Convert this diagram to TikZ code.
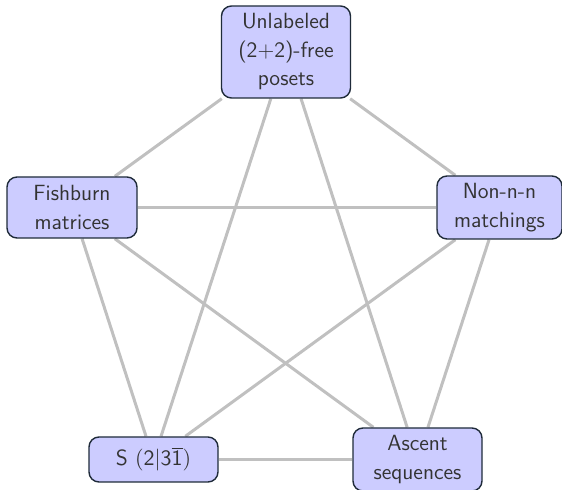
\documentclass[tikz,border=0pt]{standalone}
\usetikzlibrary{backgrounds}
\definecolor{boxfill}{HTML}{CCCCFF}
\definecolor{boxdraw}{HTML}{1F2B3A}
\definecolor{txt}{HTML}{333333}
\definecolor{edgegray}{HTML}{C0C0C0}
\begin{document}
\begin{tikzpicture}[x=1pt,y=1pt,
  box/.style={draw=boxdraw, line width=0.7pt, fill=boxfill, rounded corners=5pt,
    text=txt, align=center, font=\sffamily\fontsize{11}{14.25}\selectfont,
    minimum width=64.5pt, inner sep=2pt},
  link/.style={draw=edgegray, line width=1.5pt}]
\useasboundingbox (0,0) rectangle (281,-245);
\node[box, minimum height=46pt] (T) at (143,-26) {Unlabeled\\(2+2)-free\\posets};
\node[box, minimum height=30.5pt, minimum width=65pt] (F) at (36,-103.75) {Fishburn\\matrices};
\node[box, minimum height=31.5pt, minimum width=62.5pt] (N) at (249.75,-103.75) {Non-n-n\\matchings};
\node[box, minimum height=22.5pt] (S) at (76.75,-229.75) {S $\bigl(\mathsf{2}|\mathsf{3}\overline{\mathsf{1}}\bigr)$};
\node[box, minimum height=31.5pt] (A) at (208.75,-229.75) {Ascent\\sequences};
\begin{scope}[on background layer]
\draw[link] (T) -- (F);
\draw[link] (T) -- (N);
\draw[link] (T) -- (S);
\draw[link] (T) -- (A);
\draw[link] (F) -- (N);
\draw[link] (F) -- (S);
\draw[link] (F) -- (A);
\draw[link] (N) -- (S);
\draw[link] (N) -- (A);
\draw[link] (S) -- (A);
\end{scope}
\end{tikzpicture}
\end{document}
